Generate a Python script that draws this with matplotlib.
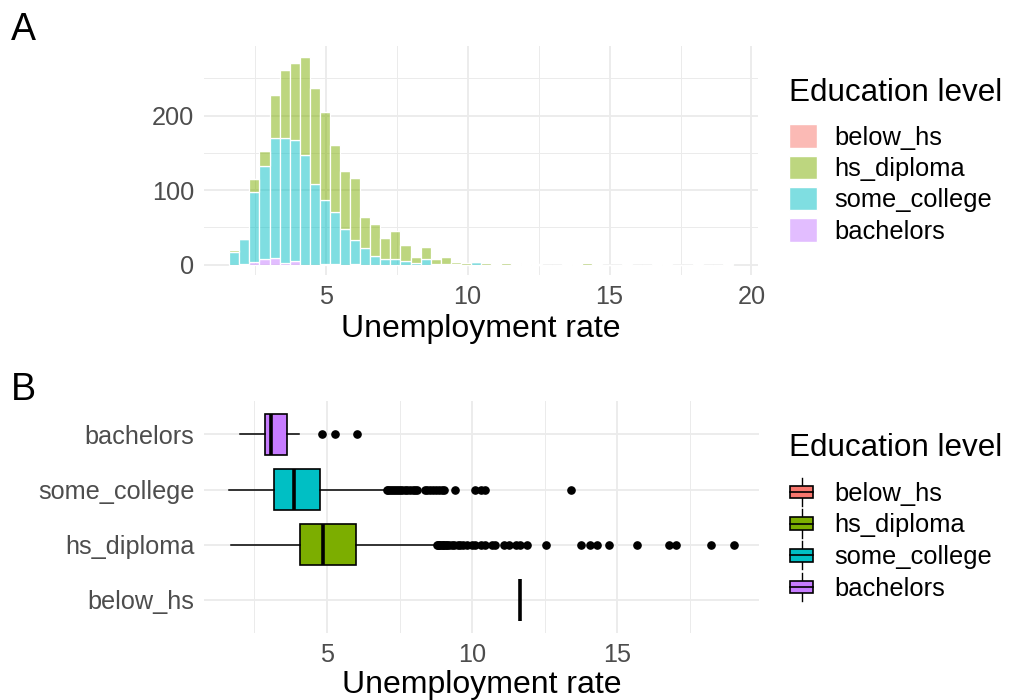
import numpy as np
import matplotlib
matplotlib.use("Agg")
import matplotlib.pyplot as plt
from matplotlib.colors import to_rgba
from matplotlib.patches import Patch, Rectangle
from matplotlib.lines import Line2D
from matplotlib.legend_handler import HandlerBase

plt.rcParams['font.family'] = ['Liberation Sans', 'DejaVu Sans']

# categories and ggplot default hue colours
levels = ['below_hs', 'hs_diploma', 'some_college', 'bachelors']
colors = ['#F8766D', '#7CAE00', '#00BFC4', '#C77CFF']

# histogram: 50 bins, counts per education level
bin_start = 1.5975
bin_width = 0.355
below_hs_counts = [0] * 28 + [1] + [0] * 21
hs_diploma_counts = [3, 0, 18, 21, 58, 91, 103, 132, 129, 118,
                     91, 78, 83, 42, 43, 28, 37, 22, 8, 17,
                     7, 9, 2, 2, 1, 2, 1, 2, 1, 1,
                     1, 0, 0, 0, 1, 2, 1, 0, 0, 1,
                     0, 0, 1, 1, 0, 0, 1, 0, 0, 1]
some_college_counts = [17, 34, 93, 124, 161, 168, 162, 147, 108, 86,
                       69, 48, 32, 22, 11, 8, 8, 5, 2, 7,
                       1, 1, 1, 0, 3, 0, 0, 0, 0, 0,
                       0, 0, 0, 1, 0, 0, 0, 0, 0, 0,
                       0, 0, 0, 0, 0, 0, 0, 0, 0, 0]
bachelors_counts = [0, 1, 4, 8, 9, 2, 5, 0, 0, 1,
                    1, 0, 1] + [0] * 37

# boxplot summaries
box_levels = ['below_hs', 'hs_diploma', 'some_college', 'bachelors']
box_q1 = [11.64, 4.07, 3.17, 2.86]
box_med = [11.64, 4.87, 3.87, 3.06]
box_q3 = [11.64, 5.99, 4.75, 3.61]
box_lo = [11.64, 1.68, 1.63, 2.00]
box_hi = [11.64, 8.72, 7.00, 4.03]
fliers_below_hs = []
fliers_hs_diploma = [8.78, 8.82, 8.86, 8.9, 8.95, 9.0, 9.05, 9.1, 9.15, 9.2,
                     9.3, 9.38, 9.5, 9.6, 9.7, 9.82, 10.0, 10.1, 10.3, 10.45,
                     10.69, 10.79, 11.09, 11.26, 11.5, 11.66, 11.89, 12.55,
                     13.76, 14.07, 14.32, 14.71, 15.69, 16.78, 17.04, 18.24, 19.03]
fliers_some_college = [7.06, 7.12, 7.18, 7.25, 7.3, 7.38, 7.45, 7.52, 7.6, 7.68,
                       7.75, 7.85, 7.95, 8.05, 8.1, 8.38, 8.45, 8.55, 8.65, 8.75,
                       8.85, 8.95, 9.05, 9.41, 10.1, 10.3, 10.45, 13.41]
fliers_bachelors = [4.83, 5.26, 6.04]

GRID = '#EBEBEB'
TICK = '#4D4D4D'

fig = plt.figure(figsize=(10.13, 7.0), dpi=100)
ax1 = fig.add_axes([0.2014, 0.607, 0.547, 0.327])
ax2 = fig.add_axes([0.2014, 0.0957, 0.548, 0.331])


def minimal_theme(ax):
    for s in ax.spines.values():
        s.set_visible(False)
    ax.set_axisbelow(True)
    ax.tick_params(which='both', length=0, labelsize=18.2, labelcolor=TICK, pad=7)
    ax.grid(which='major', color=GRID, linewidth=1.3)
    ax.grid(which='minor', color=GRID, linewidth=0.7)


# ---- panel A: stacked histogram ----
edges = bin_start + bin_width * np.arange(len(hs_diploma_counts))
stack = [bachelors_counts, some_college_counts, hs_diploma_counts, below_hs_counts]
stack_colors = [colors[3], colors[2], colors[1], colors[0]]
bottom = np.zeros(len(edges))
for counts, c in zip(stack, stack_colors):
    counts = np.array(counts, dtype=float)
    ax1.bar(edges, counts, width=bin_width, bottom=bottom, align='edge',
            facecolor=to_rgba(c, 0.5), edgecolor='white', linewidth=0.9)
    bottom += counts

minimal_theme(ax1)
ax1.set_xlim(0.71, 20.235)
ax1.set_ylim(-14, 293)
ax1.set_xticks([5, 10, 15, 20])
ax1.set_xticks([2.5, 7.5, 12.5, 17.5], minor=True)
ax1.set_yticks([0, 100, 200])
ax1.set_yticks([50, 150, 250], minor=True)
ax1.set_xlabel('Unemployment rate', fontsize=23, labelpad=4)

leg1 = ax1.legend([Patch(facecolor=to_rgba(c, 0.5), edgecolor='white') for c in colors],
                  levels, title='Education level', loc='upper left',
                  bbox_to_anchor=(0.779, 0.888), bbox_transform=fig.transFigure,
                  frameon=False, fontsize=18.4, title_fontsize=22.6,
                  alignment='left', borderpad=0, borderaxespad=0,
                  handlelength=1.08, handleheight=1.05, handletextpad=0.7,
                  labelspacing=0.22)
leg1._legend_box.sep = 11.5


# ---- panel B: horizontal boxplots ----
fliers = [fliers_below_hs, fliers_hs_diploma, fliers_some_college, fliers_bachelors]
stats = []
for i in range(len(box_levels)):
    stats.append(dict(label=box_levels[i], med=box_med[i], q1=box_q1[i], q3=box_q3[i],
                      whislo=box_lo[i], whishi=box_hi[i], fliers=fliers[i]))

bp = ax2.bxp(stats, positions=range(1, 5), widths=0.75, orientation='horizontal',
             patch_artist=True, showcaps=False,
             boxprops=dict(edgecolor='black', linewidth=1.2),
             medianprops=dict(color='black', linewidth=2.6),
             whiskerprops=dict(color='black', linewidth=1.1),
             flierprops=dict(marker='o', markerfacecolor='black',
                             markeredgecolor='black', markersize=5.2))
for patch, c in zip(bp['boxes'], colors):
    patch.set_facecolor(c)

minimal_theme(ax2)
ax2.grid(which='minor', axis='y', visible=False)
ax2.set_xlim(0.76, 19.9)
ax2.set_ylim(0.4, 4.6)
ax2.set_xticks([5, 10, 15])
ax2.set_xticks([2.5, 7.5, 12.5, 17.5], minor=True)
ax2.set_yticks(range(1, 5))
ax2.set_yticklabels(box_levels)
ax2.set_xlabel('Unemployment rate', fontsize=23, labelpad=2)


class BoxKeyHandler(HandlerBase):
    def __init__(self, color):
        super().__init__()
        self.color = color

    def create_artists(self, legend, orig_handle, xdescent, ydescent,
                       width, height, fontsize, trans):
        cx = width / 2 - xdescent
        cy = height / 2 - ydescent
        bw = width * 0.92
        bh = height * 0.55
        whisk = Line2D([cx, cx], [-ydescent - 2, height - ydescent + 2],
                       color='black', linewidth=1.0, transform=trans)
        box = Rectangle((cx - bw / 2, cy - bh / 2), bw, bh, facecolor=self.color,
                        edgecolor='black', linewidth=1.2, transform=trans)
        med = Line2D([cx - bw / 2, cx + bw / 2], [cy, cy], color='black',
                     linewidth=1.2, transform=trans)
        return [whisk, box, med]


key_handles = [Line2D([], []) for _ in colors]
leg2 = ax2.legend(key_handles, levels, title='Education level', loc='upper left',
                  bbox_to_anchor=(0.779, 0.381), bbox_transform=fig.transFigure,
                  handler_map={h: BoxKeyHandler(c) for h, c in zip(key_handles, colors)},
                  frameon=False, fontsize=18.4, title_fontsize=22.6,
                  alignment='left', borderpad=0, borderaxespad=0,
                  handlelength=0.98, handleheight=1.0, handletextpad=0.8,
                  labelspacing=0.25)
leg2._legend_box.sep = 12.5

# panel tags
fig.text(0.011, 0.983, 'A', fontsize=27, va='top', ha='left')
fig.text(0.011, 0.468, 'B', fontsize=27, va='top', ha='left')

fig.savefig('out.png', dpi=100)
